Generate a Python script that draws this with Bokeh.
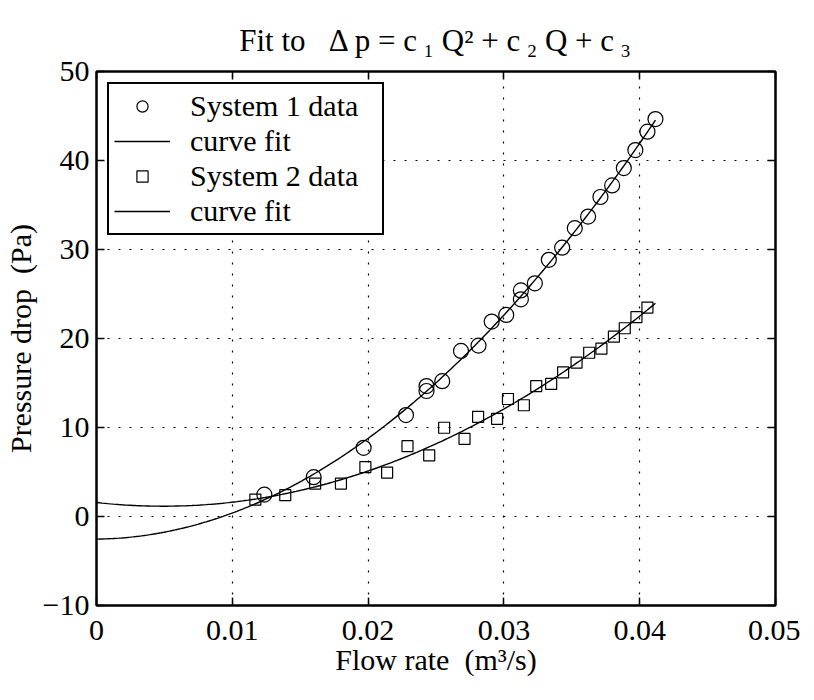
import numpy as np
from bokeh.plotting import figure
from bokeh.models import Range1d, FixedTicker, LinearAxis, Legend, LegendItem
from bokeh.embed import file_html
from bokeh.resources import INLINE

# ---- data ----
q_sys1 = [0.01236, 0.01599, 0.01967, 0.02279, 0.0243, 0.0243, 0.02546, 0.02684,
          0.02813, 0.0291, 0.03017, 0.03125, 0.03125, 0.03228, 0.03331, 0.03429,
          0.03522, 0.0362, 0.03711, 0.03797, 0.03883, 0.03968, 0.04057, 0.04116]
p_sys1 = [2.46, 4.42, 7.72, 11.4, 14.66, 14.1, 15.2, 18.6,
          19.2, 21.9, 22.65, 24.4, 25.4, 26.2, 28.84, 30.2,
          32.4, 33.7, 35.9, 37.2, 39.15, 41.17, 43.24, 44.66]
q_sys2 = [0.0117, 0.0139, 0.0161, 0.0180, 0.0198, 0.0214, 0.0229, 0.0245,
          0.0256, 0.0271, 0.0281, 0.0295, 0.0303, 0.03147, 0.03238, 0.03348,
          0.03436, 0.03535, 0.03628, 0.03718, 0.0381, 0.0389, 0.03976, 0.04057]
p_sys2 = [1.9, 2.4, 3.7, 3.7, 5.55, 4.94, 7.9, 6.86,
          9.97, 8.73, 11.2, 10.98, 13.2, 12.5, 14.66, 14.9,
          16.2, 17.3, 18.4, 18.86, 20.2, 21.15, 22.4, 23.47]

x_ticks = [0, 0.01, 0.02, 0.03, 0.04, 0.05]
x_tick_labels = ["0", "0.01", "0.02", "0.03", "0.04", "0.05"]
y_ticks = [-10, 0, 10, 20, 30, 40, 50]
y_tick_labels = ["\u221210", "0", "10", "20", "30", "40", "50"]

legend_labels = ["System 1 data", "curve fit", "System 2 data", "curve fit"]
title_text = ("Fit to\u00a0\u00a0 \u0394 p = c\u2009\u2081 Q\u00b2 + c\u2009\u2082 Q + "
              "c\u2009\u2083")
x_label = "Flow rate\u00a0 (m\u00b3/s)"
y_label = "Pressure drop\u00a0 (Pa)"

# least-squares quadratic fits, as in the chart's title
coef1 = np.polyfit(q_sys1, p_sys1, 2)
coef2 = np.polyfit(q_sys2, p_sys2, 2)
q_fit = np.linspace(0, max(max(q_sys1), max(q_sys2)), 200)
p_fit1 = np.polyval(coef1, q_fit)
p_fit2 = np.polyval(coef2, q_fit)

FONT = "Liberation Serif"
FS = "30px"

p = figure(width=800, height=690, output_backend="svg", toolbar_location=None,
           x_range=Range1d(0, 0.05), y_range=Range1d(-10, 50),
           min_border_left=95, min_border_right=25, min_border_top=71,
           min_border_bottom=85, background_fill_color="white",
           border_fill_color="white", title=title_text)
p.outline_line_color = "black"
p.outline_line_width = 2

p.title.align = "center"
p.title.text_font = FONT
p.title.text_font_size = "31px"
p.title.text_font_style = "normal"
p.title.text_color = "black"
p.title.standoff = 28

# axes
for ax, ticks, labels in ((p.xaxis[0], x_ticks, x_tick_labels), (p.yaxis[0], y_ticks, y_tick_labels)):
    ax.ticker = FixedTicker(ticks=ticks)
    ax.major_label_overrides = dict(zip(ticks, labels))
    ax.major_label_text_font = FONT
    ax.major_label_text_font_size = FS
    ax.major_label_text_color = "black"
    ax.axis_label_text_font = FONT
    ax.axis_label_text_font_size = FS
    ax.axis_label_text_font_style = "normal"
    ax.axis_label_text_color = "black"
    ax.axis_line_width = 2
    ax.axis_line_color = "black"
    ax.major_tick_in = 8
    ax.major_tick_out = 0
    ax.major_tick_line_width = 1.5
    ax.major_tick_line_color = "black"
    ax.minor_tick_line_color = None

p.xaxis.axis_label = x_label
p.yaxis.axis_label = y_label
p.xaxis.major_label_standoff = 15
p.xaxis.axis_label_standoff = 0
p.yaxis.major_label_standoff = 7
p.yaxis.axis_label_standoff = 3

for side, ticks in (("above", x_ticks), ("right", y_ticks)):
    ax = LinearAxis(ticker=FixedTicker(ticks=ticks), major_label_text_color=None,
                    major_label_text_font_size="1px", major_label_standoff=0,
                    axis_line_width=2, axis_line_color="black",
                    major_tick_in=8, major_tick_out=0, major_tick_line_width=1.5,
                    major_tick_line_color="black", minor_tick_line_color=None)
    p.add_layout(ax, side)

# grid
for g, ticks in ((p.xgrid[0], x_ticks), (p.ygrid[0], y_ticks)):
    g.ticker = FixedTicker(ticks=ticks)
    g.grid_line_color = "black"
    g.grid_line_width = 1.2
    g.grid_line_dash = "2 9"

# data
r1 = p.scatter(q_sys1, p_sys1, marker="circle", size=15, fill_color=None,
               line_color="black", line_width=1.2)
f1 = p.line(q_fit, p_fit1, line_color="black", line_width=1.4)
r2 = p.scatter(q_sys2, p_sys2, marker="square", size=11, fill_color=None,
               line_color="black", line_width=1.2)
f2 = p.line(q_fit, p_fit2, line_color="black", line_width=1.4)

legend = Legend(items=[LegendItem(label=legend_labels[0], renderers=[r1]),
                       LegendItem(label=legend_labels[1], renderers=[f1]),
                       LegendItem(label=legend_labels[2], renderers=[r2]),
                       LegendItem(label=legend_labels[3], renderers=[f2])],
                location="top_left", margin=11, padding=5, spacing=1,
                glyph_width=56, glyph_height=28, label_standoff=20,
                label_width=187,
                label_text_font=FONT, label_text_font_size=FS,
                label_text_color="black",
                border_line_color="black", border_line_width=2,
                border_line_alpha=1.0,
                background_fill_color="white", background_fill_alpha=1.0)
p.add_layout(legend)

open("out.html", "w").write(file_html(p, INLINE))
